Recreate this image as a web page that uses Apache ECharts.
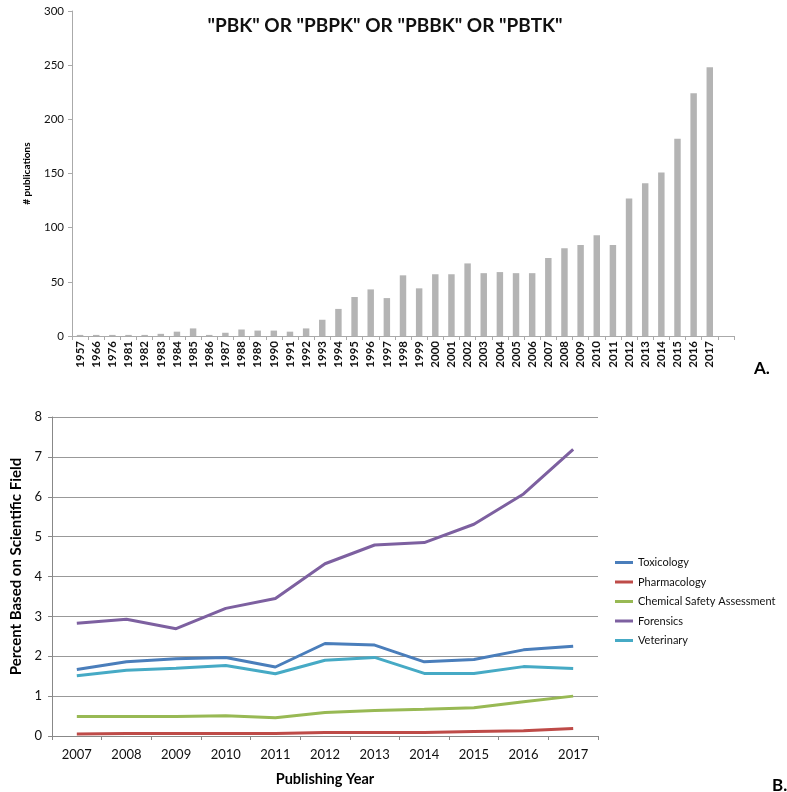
<!DOCTYPE html>
<html><head><meta charset="utf-8">
<script src="https://cdn.jsdelivr.net/npm/echarts@6/dist/echarts.min.js"></script>
<style>html,body{margin:0;padding:0;background:#fff}#c{width:787px;height:792px}</style>
</head><body><div id="c"></div>
<script>
const pubYears = ['1957','1966','1976','1981','1982','1983','1984','1985','1986','1987','1988','1989','1990','1991','1992','1993','1994','1995','1996','1997','1998','1999','2000','2001','2002','2003','2004','2005','2006','2007','2008','2009','2010','2011','2012','2013','2014','2015','2016','2017',''];
const pubCounts = [1,1,1,1,1,2,4,7,1,3,6,5,5,4,7,15,25,36,43,35,56,44,57,57,67,58,59,58,58,72,81,84,93,84,127,141,151,182,224,248,null];
const pubTicks = [0,50,100,150,200,250,300];

const fieldYears = ['2007','2008','2009','2010','2011','2012','2013','2014','2015','2016','2017'];
const toxicology = [1.67,1.86,1.94,1.97,1.73,2.32,2.28,1.86,1.92,2.16,2.25];
const pharmacology = [0.05,0.06,0.06,0.06,0.06,0.09,0.09,0.09,0.11,0.13,0.19];
const chemicalSafety = [0.49,0.49,0.49,0.51,0.46,0.59,0.64,0.67,0.71,0.86,1.0];
const forensics = [2.83,2.93,2.69,3.20,3.45,4.32,4.79,4.85,5.31,6.07,7.19];
const veterinary = [1.51,1.65,1.70,1.77,1.56,1.90,1.97,1.57,1.57,1.74,1.69];
const fieldTicks = [0,1,2,3,4,5,6,7,8];

const F = 'Lato, "Open Sans", sans-serif';
const chart = echarts.init(document.getElementById('c'), null, {renderer:'canvas'});
const lineS = (name, data, color) => ({
  name, type:'line', xAxisIndex:1, yAxisIndex:1, data, symbol:'none',
  lineStyle:{width:3, color}, itemStyle:{color}
});
chart.setOption({
  animation:false,
  textStyle:{fontFamily:F},
  title:{text:'"PBK" OR "PBPK" OR "PBBK" OR "PBTK"', left:380, textAlign:'center', top:11,
    textStyle:{fontFamily:F, fontSize:19, fontWeight:'bold', color:'#111'}},
  graphic:[
    {type:'text', left:754, top:360, style:{text:'A.', font:'bold 17px '+F, fill:'#000'}},
    {type:'text', left:772, top:777, style:{text:'B.', font:'bold 17px '+F, fill:'#000'}}
  ],
  legend:{orient:'vertical', left:610, top:552, itemGap:8.5, icon:'rect', itemWidth:18, itemHeight:3,
    textStyle:{fontFamily:F, fontSize:11, color:'#111'},
    data:['Toxicology','Pharmacology','Chemical Safety Assessment','Forensics','Veterinary']},
  grid:[
    {left:72, right:53, top:11, bottom:456, containLabel:false},
    {left:52, right:189, top:417, bottom:56, containLabel:false}
  ],
  xAxis:[
    {type:'category', gridIndex:0, data:pubYears,
     axisLine:{lineStyle:{color:'#aaa'}}, axisTick:{show:true, length:4, lineStyle:{color:'#aaa'}},
     axisLabel:{rotate:90, interval:0, fontSize:11.5, fontWeight:'bold', color:'#111', margin:5}},
    {type:'category', gridIndex:1, data:fieldYears, name:'Publishing Year', nameLocation:'middle', nameGap:36,
     nameTextStyle:{fontFamily:F, fontSize:14.5, fontWeight:'bold', color:'#000'},
     axisLine:{lineStyle:{color:'#888'}}, axisTick:{show:true, length:4, lineStyle:{color:'#888'}},
     axisLabel:{fontSize:13, color:'#111', margin:12}}
  ],
  yAxis:[
    {type:'value', gridIndex:0, min:0, max:300, interval:50, name:'# publications', nameLocation:'middle', nameGap:40,
     nameTextStyle:{fontFamily:F, fontSize:10, fontWeight:'bold', color:'#000'},
     axisLine:{show:true, lineStyle:{color:'#aaa'}}, axisTick:{show:true, length:4, lineStyle:{color:'#aaa'}},
     splitLine:{show:false}, axisLabel:{fontSize:11.5, color:'#111', margin:8}},
    {type:'value', gridIndex:1, min:0, max:8, interval:1, name:'Percent Based on Scientific Field', nameLocation:'middle', nameGap:26,
     nameTextStyle:{fontFamily:F, fontSize:15, fontWeight:'bold', color:'#000', padding:[0,0,0,20]},
     axisLine:{show:true, lineStyle:{color:'#888'}}, axisTick:{show:true, length:4, lineStyle:{color:'#888'}},
     splitLine:{show:true, lineStyle:{color:'#999', width:1}}, axisLabel:{fontSize:13, color:'#111', margin:10}}
  ],
  series:[
    {type:'bar', xAxisIndex:0, yAxisIndex:0, data:pubCounts, barWidth:'40%', itemStyle:{color:'#b4b4b4'}},
    lineS('Toxicology', toxicology, '#4a7ebb'),
    lineS('Pharmacology', pharmacology, '#be4b48'),
    lineS('Chemical Safety Assessment', chemicalSafety, '#98b954'),
    lineS('Forensics', forensics, '#7d60a0'),
    lineS('Veterinary', veterinary, '#46aac5')
  ]
});
</script></body></html>
